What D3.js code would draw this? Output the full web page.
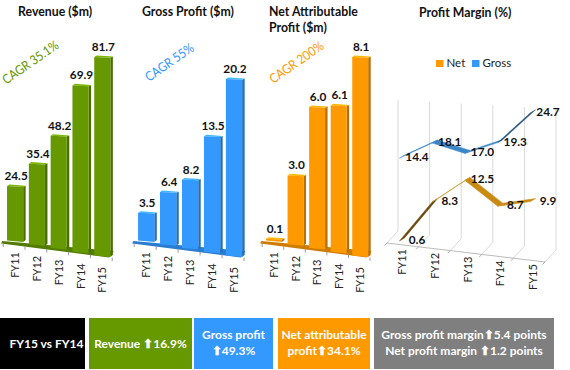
<!DOCTYPE html>
<html>
<head>
<meta charset="utf-8">
<script src="https://cdn.jsdelivr.net/npm/d3@7"></script>
<style>
  html, body { margin: 0; padding: 0; background: #fff; }
  text { font-family: Lato, "Open Sans", sans-serif; }
  .title { font-size: 12.3px; font-weight: 700; fill: #111; }
  .value { font-size: 11.8px; font-weight: 700; fill: #111; text-anchor: middle; }
  .cagr { font-size: 13px; text-anchor: middle; }
  .cat { font-size: 11px; fill: #222; }
  .box { font-size: 12px; font-weight: 700; fill: #fff; text-anchor: middle; }
</style>
</head>
<body>
<svg id="chart" width="570" height="370"></svg>
<script>
const categories = ['FY11', 'FY12', 'FY13', 'FY14', 'FY15'];
const revenue = [24.5, 35.4, 48.2, 69.9, 81.7];
const grossProfit = [3.5, 6.4, 8.2, 13.5, 20.2];
const netProfit = [0.1, 3.0, 6.0, 6.1, 8.1];
const grossMargin = [14.4, 18.1, 17.0, 19.3, 24.7];
const netMargin = [0.6, 8.3, 12.5, 8.7, 9.9];
const boxLines = [
  ['FY15 vs FY14'],
  ['Revenue ⬆16.9%'],
  ['Gross profit', '⬆49.3%'],
  ['Net attributable', 'profit⬆34.1%'],
  ['Gross profit margin⬆5.4 points', 'Net profit margin ⬆1.2 points']
];

const GREEN = '#669900', BLUE = '#3399ff', ORANGE = '#ff9900', GREY = '#7f7f7f';
const svg = d3.select('#chart');

// the bars get a bit taller towards the front, like the 3d original
const perspective = d3.scaleLinear().domain([0, 4]).range([0.92, 1]);
const floorY = d3.scaleLinear().domain([0, 4]).range([241, 256]);

function barChart(cfg) {
  const g = svg.append('g');
  const x = d3.scaleBand().domain(categories).range(cfg.xRange).paddingInner(0.26).paddingOuter(0.13);
  const y = d3.scaleLinear().domain([0, d3.max(cfg.values)]).range([0, cfg.maxHeight]);
  const w = x.bandwidth();
  const [x0, x1] = cfg.xRange;
  const side = d3.color(cfg.color).darker(0.9);
  const top = d3.color(cfg.color).brighter(0.5);

  // floor
  g.append('polygon')
    .attr('points', [[x0 - 2, 241], [x1 + 0.5, 251], [x1 - 4, 257.5], [x0 - 3, 243.5]].join(' '))
    .attr('fill', d3.color(cfg.color).darker(0.6));

  const bars = g.selectAll('.bar').data(cfg.values).join('g').attr('class', 'bar');

  bars.each(function(d, i) {
    const left = x(categories[i]);
    const bottom = floorY(i);
    const h = y(d) * perspective(i);
    const b = d3.select(this);
    b.append('polygon') // right face
      .attr('fill', side)
      .attr('points', [[left + w, bottom - h + 0.8], [left + w + 2.5, bottom - h - 0.4],
        [left + w + 2.5, bottom - 1], [left + w, bottom + 1]].join(' '));
    b.append('polygon') // top face
      .attr('fill', top)
      .attr('points', [[left, bottom - h], [left + 2.5, bottom - h - 1.6],
        [left + w + 2.5, bottom - h - 0.4], [left + w, bottom - h + 0.8]].join(' '));
    b.append('polygon') // front face
      .attr('fill', cfg.color)
      .attr('points', [[left, bottom - h], [left + w, bottom - h + 0.8],
        [left + w, bottom + 1], [left, bottom - 0.5]].join(' '));
    g.append('text')
      .attr('class', 'value')
      .attr('x', left + w / 2 + 1)
      .attr('y', bottom - h - 6)
      .text(d.toFixed(1));
  });

  // small ticks along the front of the floor
  g.selectAll('.tick-mark').data(d3.range(6)).join('line')
    .attr('x1', i => x0 + i * x.step() - 1)
    .attr('x2', i => x0 + i * x.step() - 1)
    .attr('y1', i => 243.5 + i * 2.8)
    .attr('y2', i => 247 + i * 2.8)
    .attr('stroke', '#999');

  const axis = g.append('g').call(d3.axisBottom(x).tickSize(0));
  axis.select('.domain').remove();
  axis.selectAll('.tick')
    .attr('transform', (d, i) => `translate(${x(d) + w / 2},${floorY(i) + 11})`);
  axis.selectAll('.tick text')
    .attr('class', 'cat')
    .attr('transform', 'rotate(-90)')
    .attr('x', 0).attr('y', 4).attr('dy', 0)
    .attr('text-anchor', 'end')
    .style('font-family', null).style('font-size', null);

  // Lato runs wider than the original face, so squeeze it a little
  g.append('text')
    .attr('class', 'cagr')
    .attr('fill', cfg.color)
    .attr('transform', `translate(${cfg.cagrX},66) rotate(-35) scale(0.88,1)`)
    .text(cfg.cagr);

  cfg.title.forEach((t, i) => {
    g.append('text').attr('class', 'title')
      .attr('x', cfg.titleX).attr('y', 16 + i * 15.5).text(t);
  });
}

barChart({ values: revenue, color: GREEN, xRange: [4.2, 113.2], maxHeight: 199,
  title: ['Revenue ($m)'], titleX: 18, cagr: 'CAGR 35.1%', cagrX: 33 });
barChart({ values: grossProfit, color: BLUE, xRange: [135.2, 245], maxHeight: 177,
  title: ['Gross Profit ($m)'], titleX: 142, cagr: 'CAGR 55%', cagrX: 172 });
barChart({ values: netProfit, color: ORANGE, xRange: [263.2, 371], maxHeight: 199,
  title: ['Net Attributable', 'Profit ($m)'], titleX: 269, cagr: 'CAGR 200%', cagrX: 299 });

// profit margin chart
const m = svg.append('g');
m.append('text').attr('class', 'title').attr('x', 419).attr('y', 17).text('Profit Margin (%)');

const legendX = d3.scalePoint().domain(['Net', 'Gross']).range([436, 472]);
[['Net', ORANGE], ['Gross', BLUE]].forEach(([name, col]) => {
  m.append('rect').attr('x', legendX(name)).attr('y', 60).attr('width', 7.5).attr('height', 7).attr('fill', col);
  m.append('text').attr('x', legendX(name) + 10.5).attr('y', 67)
    .style('font-size', '11.5px').attr('fill', '#222').text(name);
});

const frontX = d3.scaleLinear().domain([0, 5]).range([387, 545]);
const frontY = d3.scaleLinear().domain([0, 5]).range([243, 262]);
const wallTop = d3.scaleLinear().domain([0, 5]).range([100, 109]);
const depth = [11, -12];

// walls and floor lines
m.selectAll('.grid').data(d3.range(6)).join('path')
  .attr('fill', 'none').attr('stroke', '#d9d9d9').attr('stroke-width', 1)
  .attr('d', i => d3.line()([
    [frontX(i), frontY(i)],
    [frontX(i) + depth[0], frontY(i) + depth[1]],
    [frontX(i) + depth[0], wallTop(i)]
  ]));
m.append('line').attr('x1', frontX(0)).attr('y1', frontY(0)).attr('x2', frontX(5)).attr('y2', frontY(5))
  .attr('stroke', '#bbb');
m.selectAll('.mtick').data(d3.range(6)).join('line')
  .attr('x1', frontX).attr('y1', frontY)
  .attr('x2', i => frontX(i) - 2.5).attr('y2', i => frontY(i) + 2.5)
  .attr('stroke', '#aaa');

const mx = d3.scalePoint().domain(categories).range([402, 533]);
const my = d3.scaleLinear().domain([0, 10]).range([0, 60]);
const mFloor = d3.scalePow().exponent(0.6).domain([0, 4]).range([243, 259.5]);
const ribbonDepth = [5, -3];

const ribbon = d3.area()
  .x0(d => d[0] - ribbonDepth[0] / 2).y0(d => d[1] - ribbonDepth[1] / 2)
  .x1(d => d[0] + ribbonDepth[0] / 2).y1(d => d[1] + ribbonDepth[1] / 2);

function marginSeries(values, color, under) {
  const pts = values.map((v, i) => [mx(categories[i]), mFloor(i) - my(v)]);
  d3.pairs(pts).forEach(([a, b]) => {
    const slope = (b[1] - a[1]) / (b[0] - a[0]);
    m.append('path').attr('d', ribbon([a, b]))
      .attr('fill', slope < -0.9 ? under : color)
      .attr('stroke', slope < -0.9 ? under : color)
      .attr('stroke-width', 0.5);
  });
  values.forEach((v, i) => {
    m.append('text').attr('class', 'value')
      .attr('x', pts[i][0] + 15).attr('y', pts[i][1] + 4.5)
      .text(v.toFixed(1));
  });
}
marginSeries(grossMargin, '#3b86c8', '#1f4e79');
marginSeries(netMargin, '#c98a12', '#6b4708');

const axisM = m.append('g').call(d3.axisBottom(mx).tickSize(0));
axisM.select('.domain').remove();
axisM.selectAll('.tick')
  .attr('transform', (d, i) => `translate(${mx(d)},${frontY(i) + 6})`);
axisM.selectAll('.tick text')
  .attr('class', 'cat')
  .attr('transform', 'rotate(-90)')
  .attr('x', 0).attr('y', 4).attr('dy', 0)
  .attr('text-anchor', 'end')
  .style('font-family', null).style('font-size', null);

// summary boxes along the bottom
const boxEdges = [[0, 85], [89, 192], [194, 273], [278, 370], [374, 554]];
const boxColors = ['#000', GREEN, BLUE, ORANGE, GREY];
const boxes = svg.selectAll('.summary').data(boxLines).join('g').attr('class', 'summary');
boxes.append('rect')
  .attr('x', (d, i) => boxEdges[i][0]).attr('y', 318)
  .attr('width', (d, i) => boxEdges[i][1] - boxEdges[i][0]).attr('height', 51)
  .attr('fill', (d, i) => boxColors[i]);
boxes.each(function(lines, i) {
  const cx = (boxEdges[i][0] + boxEdges[i][1]) / 2 + (i === 0 ? 4 : 0);
  const startY = lines.length === 1 ? 348 : 339;
  d3.select(this).selectAll('text').data(lines).join('text')
    .attr('class', 'box')
    .attr('x', cx)
    .attr('y', (d, j) => startY + j * 16)
    .text(d => d);
});
</script>
</body>
</html>
